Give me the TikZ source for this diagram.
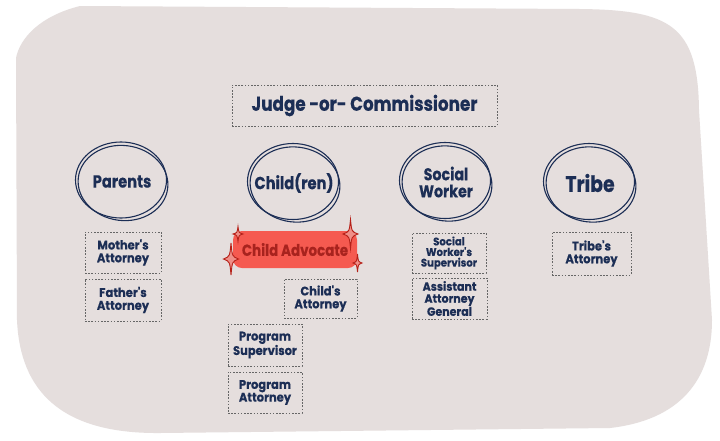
\documentclass[tikz,border=0pt]{standalone}
\usepackage{fontspec}
\setmainfont{Poppins}[BoldFont={Poppins Bold}]
\newfontfamily\lab{Poppins Bold}[FakeStretch=0.84,FakeBold=0.3]
\newfontfamily\labs{Poppins Bold}[FakeStretch=0.92,FakeBold=0.3]
\definecolor{navy}{HTML}{1C2E55}
\definecolor{blob}{HTML}{E5DEDD}
\definecolor{advfill}{HTML}{F55A50}
\definecolor{advtext}{HTML}{A8231E}
\definecolor{spark}{HTML}{B52018}
\definecolor{dashgray}{HTML}{666666}
\begin{document}
\begin{tikzpicture}[x=1pt,y=-1pt,
  dbox/.style={draw=dashgray,line width=0.7pt,dash pattern=on 1.6pt off 1.6pt,
    inner sep=0pt,align=center,text=navy,font=\labs\fontsize{12.5}{12.8}\selectfont},
  ctext/.style={inner sep=0pt,align=center,text=navy},
  circ/.style={draw=navy,line width=1.1pt},
  sparkle/.style={draw=spark,line width=0.9pt,fill=advfill!60!blob}]
\useasboundingbox (0,0) rectangle (720,440);
\fill[white] (0,0) rectangle (720,440);
% background blob
\fill[blob] (16,58) .. controls (20,38) and (40,16) .. (80,6) -- (580,9)
  .. controls (670,10) and (698,25) .. (699,110) -- (712,320)
  .. controls (712,380) and (680,420) .. (610,428) -- (160,433)
  .. controls (60,434) and (20,390) .. (17,320) -- cycle;
% judge
\node[dbox,minimum width=265pt,minimum height=41pt,font=\lab\fontsize{20}{22}\selectfont] (judge) at (364.5,105.5) {Judge -or- Commissioner};
% circles
\node[ctext,font=\lab\fontsize{17.5}{18}\selectfont] (parents) at (122,181.5) {Parents};
\node[ctext,font=\lab\fontsize{17.5}{18}\selectfont] (child) at (294,183) {Child(ren)};
\node[ctext,font=\lab\fontsize{17}{17}\selectfont] (sw) at (446,182) {Social\\Worker};
\node[ctext,font=\lab\fontsize{22.5}{24}\selectfont] (tribe) at (590,183) {Tribe};
\foreach \n in {parents,child,sw,tribe}{
  \draw[circ] ([shift={(-1,-1.5)}]\n.center) ellipse [x radius=45.5,y radius=38];
  \draw[circ] ([shift={(1,1.5)}]\n.center) ellipse [x radius=45,y radius=37.5,rotate=-7];
}
% child advocate
\node[fill=advfill,rounded corners=9pt,minimum width=124pt,minimum height=37pt,inner sep=0pt,
  text=advtext,font=\lab\fontsize{16}{18}\selectfont] (adv) at (295,249.5) {Child Advocate};
\newcommand\sparkleat[4]{%
  \draw[sparkle] (#1,#2-#4/2) .. controls (#1+#3*0.08,#2-#4*0.08) .. (#1+#3/2,#2)
    .. controls (#1+#3*0.08,#2+#4*0.08) .. (#1,#2+#4/2)
    .. controls (#1-#3*0.08,#2+#4*0.08) .. (#1-#3/2,#2)
    .. controls (#1-#3*0.08,#2-#4*0.08) .. cycle;}
\sparkleat{238}{234}{10}{15}
\sparkleat{231}{259}{15}{32}
\sparkleat{350.5}{234}{15}{29}
\sparkleat{357.5}{263}{9}{18}
% boxes
\node[dbox,minimum width=76pt,minimum height=41pt] (mother) at (123,252.5) {Mother's\\Attorney};
\node[dbox,minimum width=76pt,minimum height=42pt] (father) at (123,300) {Father's\\Attorney};
\node[dbox,minimum width=73pt,minimum height=39pt] (childatty) at (320.5,298.5) {Child's\\Attorney};
\node[dbox,minimum width=74pt,minimum height=42pt] (progsup) at (265,345) {Program\\Supervisor};
\node[dbox,minimum width=74pt,minimum height=41pt] (progatty) at (265,392.5) {Program\\Attorney};
\node[dbox,minimum width=74pt,minimum height=40pt,font=\labs\fontsize{11}{10.6}\selectfont] (swsup) at (449,253) {Social\\Worker's\\Supervisor};
\node[dbox,minimum width=75pt,minimum height=41pt,font=\labs\fontsize{12}{12}\selectfont] (aag) at (449.5,298.5) {Assistant\\Attorney\\General};
\node[dbox,minimum width=79pt,minimum height=43pt] (tribeatty) at (591.5,253.5) {Tribe's\\Attorney};
\end{tikzpicture}
\end{document}
